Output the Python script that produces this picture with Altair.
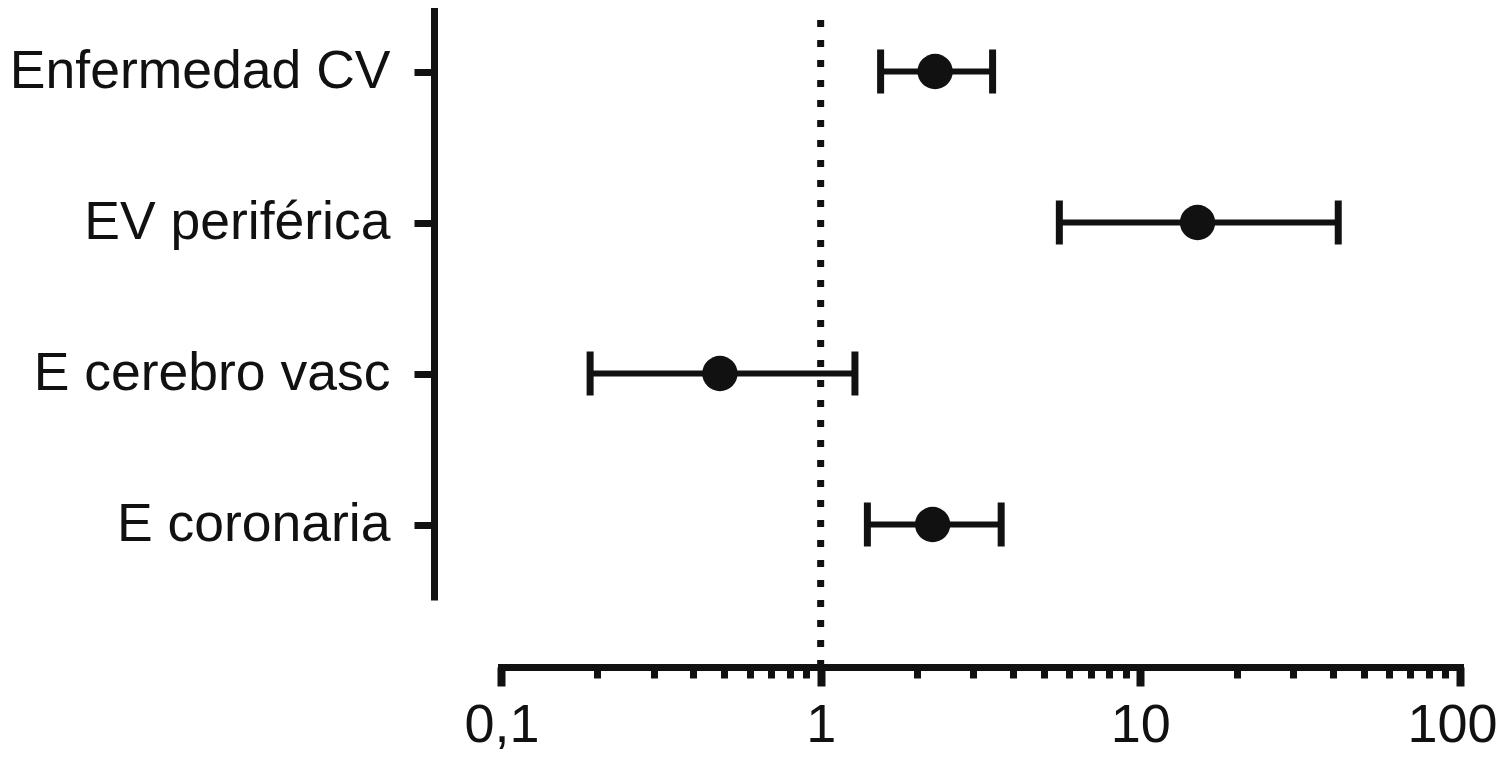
import altair as alt
import pandas as pd

# ---- data ----
categories = ["Enfermedad CV", "EV periférica", "E cerebro vasc", "E coronaria"]
estimate = [2.28, 15.1, 0.484, 2.24]
lower = [1.54, 5.58, 0.19, 1.40]
upper = [3.45, 41.6, 1.28, 3.67]
major_ticks = [0.1, 1, 10, 100]
minor_ticks = [0.2, 0.3, 0.4, 0.5, 0.6, 0.7, 0.8, 0.9,
               2, 3, 4, 5, 6, 7, 8, 9,
               20, 30, 40, 50, 60, 70, 80, 90]
reference_value = 1

df = pd.DataFrame({"cat": categories, "est": estimate, "lo": lower, "hi": upper})

W, H = 959, 604
OFF = 67
INK = "#111111"
FONT = "Liberation Sans"

xscale = alt.Scale(type="log", domain=[0.1, 100], nice=False)

y_axis = alt.Axis(
    title=None, orient="left", offset=OFF, domainWidth=7, domainColor=INK,
    tickSize=20, tickWidth=7, tickColor=INK, labelFont=FONT, labelFontSize=53.5,
    labelColor=INK, labelPadding=24, labelLimit=600,
)
yenc = alt.Y("cat:N", sort=categories, scale=alt.Scale(type="point", padding=0.5), axis=y_axis)

major_axis = alt.Axis(
    title=None, orient="bottom", offset=OFF, values=major_ticks, domainWidth=7,
    domainColor=INK, domainCap="square", tickSize=19, tickWidth=8, tickColor=INK,
    labelFont=FONT, labelFontSize=54, labelColor=INK, labelPadding=12,
    labelExpr="replace(toString(datum.value), '.', ',')", grid=False,
    labelOverlap=False, labelFlush=True, labelFlushOffset=37,
)
minor_axis = alt.Axis(
    title=None, orient="bottom", offset=OFF, values=minor_ticks, domain=False,
    tickSize=11, tickWidth=7, tickColor=INK, labels=False, grid=False,
)

base = alt.Chart(df)

bars = base.mark_rule(color=INK, strokeWidth=6).encode(
    x=alt.X("lo:Q", scale=xscale, axis=major_axis),
    x2="hi:Q",
    y=yenc,
)
cap_lo = base.mark_tick(color=INK, thickness=7, size=44, opacity=1).encode(
    x=alt.X("lo:Q", scale=xscale, axis=None), y=yenc)
cap_hi = base.mark_tick(color=INK, thickness=7, size=44, opacity=1).encode(
    x=alt.X("hi:Q", scale=xscale, axis=None), y=yenc)
points = base.mark_point(filled=True, color=INK, size=1250, opacity=1, shape="circle").encode(
    x=alt.X("est:Q", scale=xscale, axis=minor_axis), y=yenc)

ref = alt.Chart(pd.DataFrame({"v": [reference_value]})).mark_rule(
    color=INK, strokeWidth=7, strokeDash=[7, 13], strokeCap="butt"
).encode(
    x=alt.X("v:Q", scale=xscale, axis=None),
    y=alt.value(4),
    y2=alt.value(H + OFF),
)

chart = (
    alt.layer(ref, bars, cap_lo, cap_hi, points)
    .resolve_axis(x="independent")
    .properties(
        width=W, height=H,
        autosize=alt.AutoSizeParams(type="none"),
        padding={"left": 493, "top": -12, "right": 39, "bottom": 160},
        background="white",
    )
    .configure_view(stroke=None)
)

chart.save("out.html", embed_options={"renderer": "svg", "actions": False})
